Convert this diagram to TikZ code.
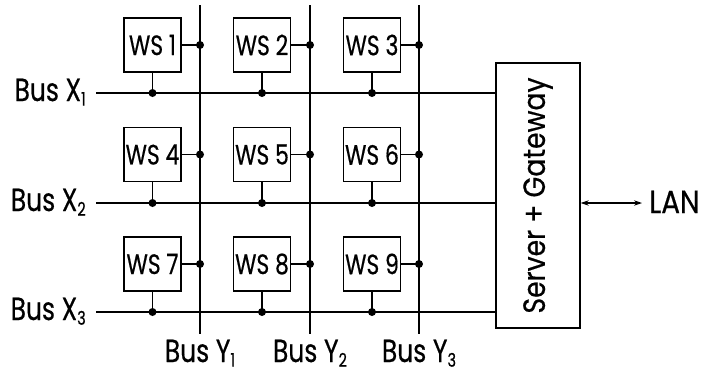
\documentclass[tikz,border=0pt]{standalone}
\usepackage{fontspec}
\setmainfont{Poppins}[FakeStretch=0.78, FakeBold=0.5]
\newfontfamily\widerfont{Poppins}[FakeStretch=0.87, FakeBold=0.5]
\usetikzlibrary{arrows.meta}
\newcommand{\lowsub}[1]{\raisebox{-3.5pt}{\fontsize{14}{14}\selectfont #1}}
\begin{document}
\begin{tikzpicture}[x=0.75pt,y=-0.75pt,
  bus/.style={line width=1.5pt},
  stub/.style={line width=0.8pt},
  ws/.style={draw, line width=1pt, minimum width=42.75pt, minimum height=40.5pt,
    inner sep=0pt, font=\fontsize{21}{21}\selectfont},
  dot/.style={circle, fill, inner sep=0pt, minimum size=6pt},
  buslabel/.style={font=\fontsize{24}{24}\selectfont, inner sep=0pt},
  server/.style={draw, line width=1pt, minimum width=63pt, minimum height=198.75pt, inner sep=0pt}]
\useasboundingbox (0,0) rectangle (705,372);

% server box
\node[server] (srv) at (538,195.5) {};
\node[rotate=90, font=\widerfont\fontsize{23}{23}\selectfont, inner sep=0pt] (srvtxt) at (srv.center) {Server + Gateway};

% vertical buses Y1..Y3
\foreach \i/\x in {1/200,2/310,3/419} {
  \coordinate (yt\i) at (\x,5);
  \coordinate (yb\i) at (\x,334);
  \draw[bus] (yt\i) -- (yb\i);
  \node[buslabel, anchor=base] (ylab\i) at (\x,362) {Bus Y\lowsub{\i}};
}

% horizontal buses X1..X3
\foreach \i/\y in {1/93,2/203,3/312} {
  \coordinate (xl\i) at (96,\y);
  \coordinate (xr\i) at (srv.west |- xl\i);
  \draw[bus] (xl\i) -- (xr\i);
  \node[buslabel, anchor=base east] (xlab\i) at (86,\y+8) {Bus X\lowsub{\i}};
}

% workstations
\foreach \r/\y in {1/45,2/154.5,3/264} {
  \foreach \c/\x in {1/152.5,2/262,3/372} {
    \pgfmathtruncatemacro{\n}{(\r-1)*3+\c}
    \node[ws] (ws\n) at (\x,\y) {WS \n};
    \node[dot] (dy\n) at (yt\c |- ws\n.east) {};
    \node[dot] (dx\n) at (ws\n.south |- xl\r) {};
    \draw[stub] (ws\n.east) -- (dy\n.center);
    \draw[stub] (ws\n.south) -- (dx\n.center);
  }
}

% LAN link
\coordinate (lanend) at (642,203);
\draw[line width=0.8pt, {Stealth[length=6pt,width=4pt]}-{Stealth[length=6pt,width=4pt]}] (srv.east |- lanend) -- (lanend);
\node[buslabel, font=\widerfont\fontsize{24}{24}\selectfont, anchor=base west] (lan) at (649,213) {LAN};
\end{tikzpicture}
\end{document}
